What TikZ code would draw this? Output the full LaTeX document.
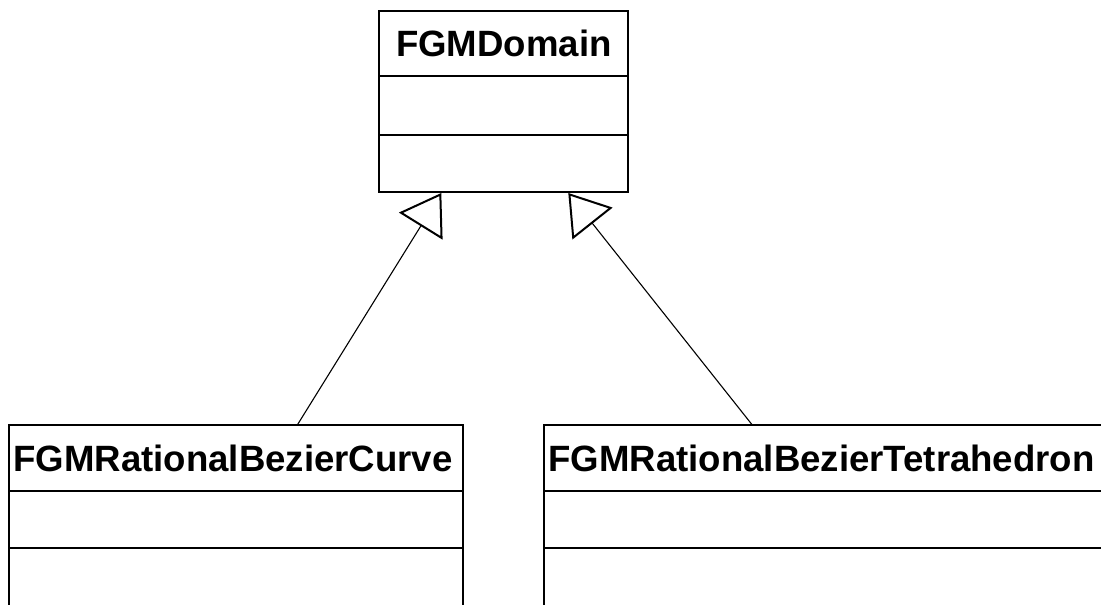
\documentclass[tikz,border=0pt]{standalone}
\usepackage{fontspec}
\setmainfont{Liberation Sans}
\usepackage{tikz}
\usetikzlibrary{positioning,arrows.meta}

\tikzset{
  classname/.style={draw,line width=2pt,inner xsep=4pt,inner ysep=0pt,outer sep=0pt,
    font=\fontsize{36.6}{40}\selectfont\bfseries},
  classpart/.style={draw,line width=2pt,inner sep=0pt,outer sep=0pt},
  inherit/.style={line width=1.1pt,-{Triangle[open,length=39pt,width=51pt,line width=2pt]}}
}

\begin{document}
\begin{tikzpicture}[x=1pt,y=1pt]
\useasboundingbox (0,0) rectangle (1101,-605);
\clip (0,0) rectangle (1101,-605);
% base class
\node[classname,anchor=north west,minimum width=249pt,minimum height=65pt]
  (dom) at (379.3,-11) {FGMDomain};
\node[classpart,below=0pt of dom,minimum width=249pt,minimum height=59pt] (domattr) {};
\node[classpart,below=0pt of domattr,minimum width=249pt,minimum height=57pt] (domops) {};
% derived classes
\node[classname,anchor=north west,text width=446pt,align=left,minimum height=66pt]
  (curve) at (9.3,-425) {FGMRationalBezierCurve};
\node[classpart,below=0pt of curve,minimum width=454pt,minimum height=57pt] (curveattr) {};
\node[classpart,below=0pt of curveattr,minimum width=454pt,minimum height=90pt] (curveops) {};
\node[classname,anchor=north west,text width=612pt,align=left,minimum height=66pt]
  (tet) at (544.3,-425) {FGMRationalBezierTetrahedron};
\node[classpart,below=0pt of tet,minimum width=620pt,minimum height=57pt] (tetattr) {};
\node[classpart,below=0pt of tetattr,minimum width=620pt,minimum height=90pt] (tetops) {};
% generalisation
\draw[inherit] ([xshift=288pt]curve.north west) -- ([xshift=62pt,yshift=-1pt]domops.south west);
\draw[inherit] ([xshift=208pt]tet.north west) -- ([xshift=189pt,yshift=-1pt]domops.south west);
\end{tikzpicture}
\end{document}
